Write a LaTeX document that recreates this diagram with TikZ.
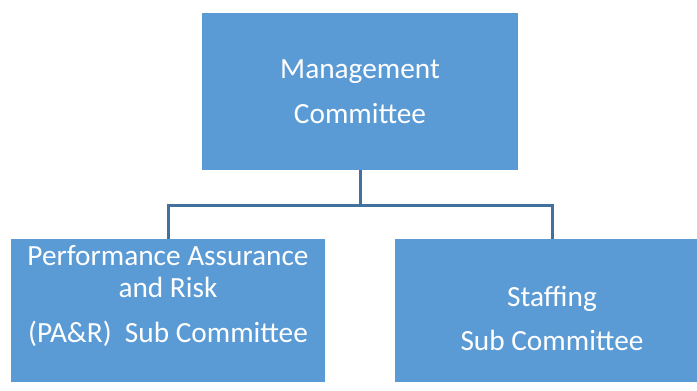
\documentclass[tikz,border=0pt]{standalone}
\usepackage{fontspec}
\setmainfont{Carlito}
\usepackage{xcolor}

\definecolor{boxblue}{HTML}{5B9BD5}
\definecolor{linkblue}{HTML}{41719C}

\tikzset{
  unitbox/.style={fill=boxblue, draw=none, text=white, align=center,
    minimum width=314pt, minimum height=143pt, inner sep=0pt,
    font=\fontsize{29.3}{32}\selectfont},
  link/.style={draw=linkblue, line width=3pt}
}

\begin{document}
\begin{tikzpicture}[x=1pt,y=1pt]
\useasboundingbox (0,0) rectangle (697,391);
\clip (0,0) rectangle (697,391);

% Top box
\node[unitbox, minimum width=316pt, minimum height=157pt,
  text height=73pt, text depth=8pt,
  font=\fontsize{29.3}{45}\selectfont] (mgmt) at (360,299.5)
  {Management\\Committee};

% sub committees
\node[unitbox, text height=73pt, text depth=8pt] (pa) at (168,80.5)
  {Performance Assurance\\and Risk\\[13pt](PA\&R)\ \ Sub Committee};
\node[unitbox, text height=89pt, text depth=8pt,
  font=\fontsize{29.3}{44}\selectfont] (staff) at (552,80.5)
  {Staffing\\Sub Committee};

% connectors
\draw[link] (mgmt.south) -- ++(0,-35) coordinate (split) -| (pa.north);
\draw[link] (split) -| (staff.north);
\end{tikzpicture}
\end{document}
